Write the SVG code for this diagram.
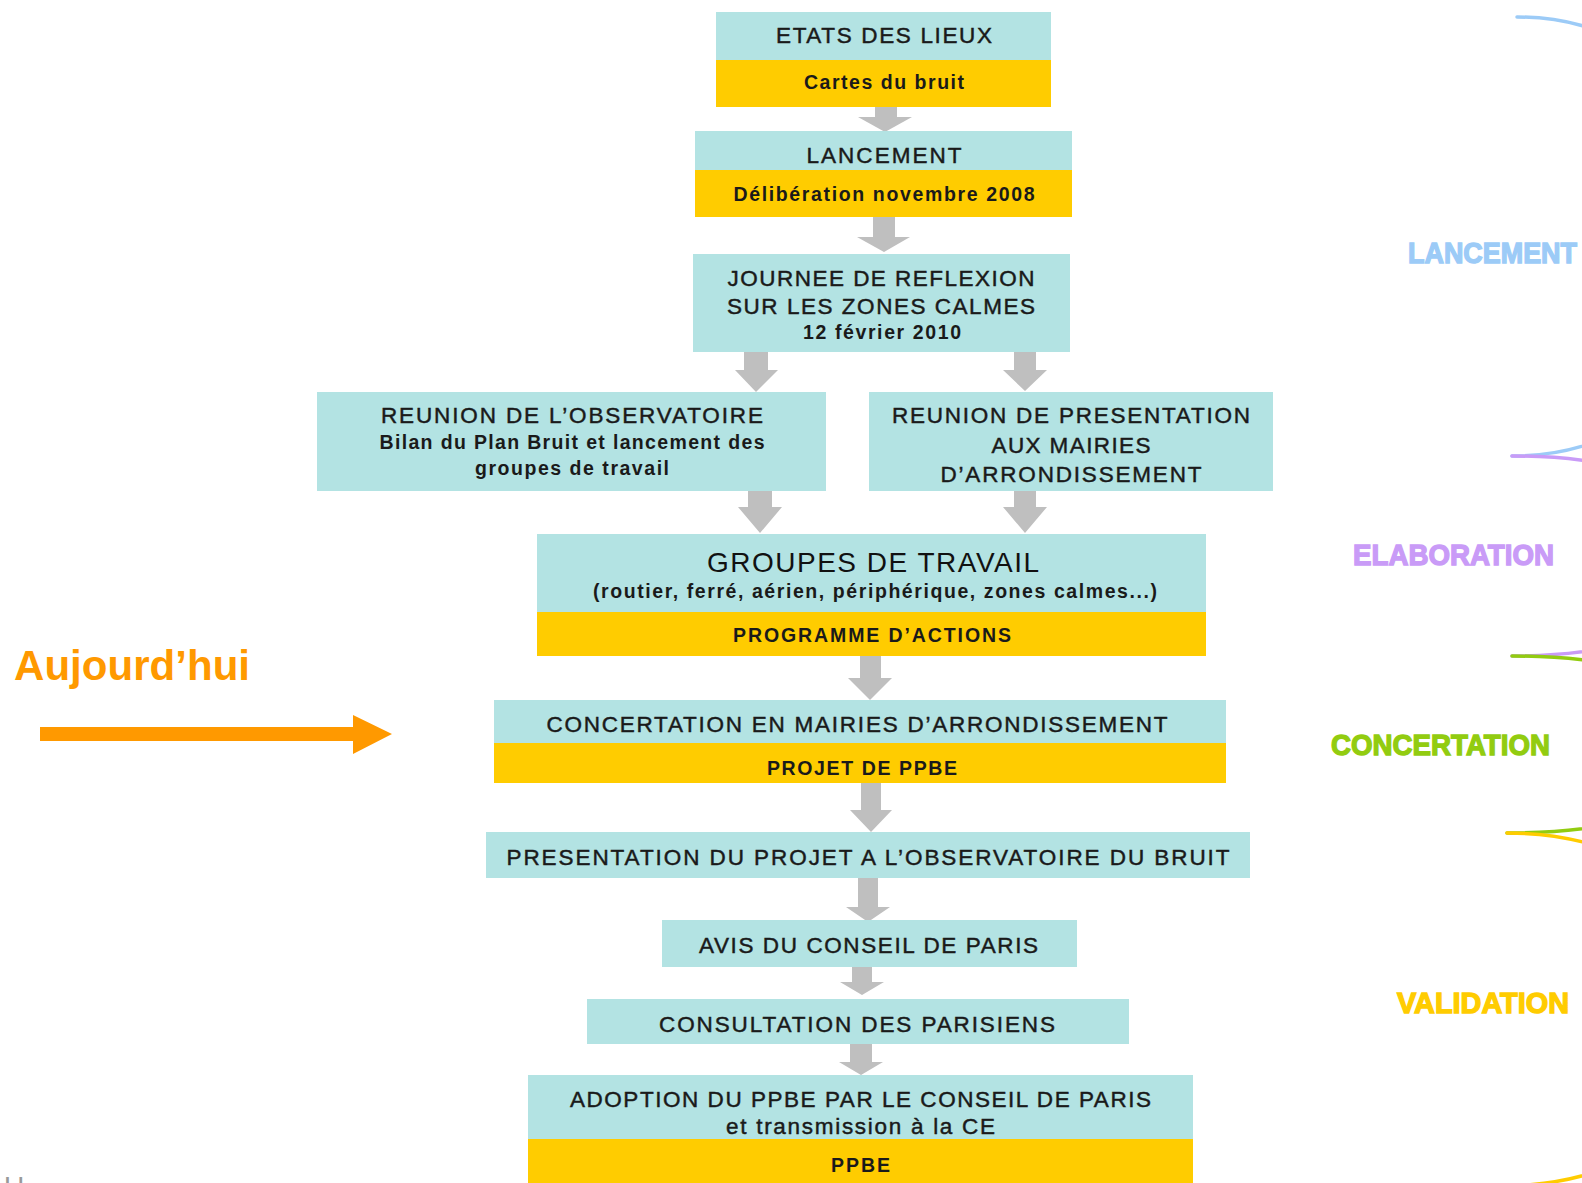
<svg xmlns="http://www.w3.org/2000/svg" width="1582" height="1183" viewBox="0 0 1582 1183">
<style>
.teal{fill:#B3E3E3}
.yel{fill:#FFCC00}
.arr{fill:#BFBFBF}
.t{font-family:"Liberation Sans",Arial,sans-serif;font-size:22.5px;fill:#1a1a1a;stroke:#1a1a1a;stroke-width:0.45px;text-anchor:middle}
.s{font-family:"Liberation Sans",Arial,sans-serif;font-size:19.5px;font-weight:bold;fill:#1a1a1a;text-anchor:middle}
.g{font-family:"Liberation Sans",Arial,sans-serif;font-size:28px;fill:#111;text-anchor:middle}
.ph{font-family:"Liberation Sans",Arial,sans-serif;font-size:30px;font-weight:bold;stroke-width:1.4px}
.arc{fill:none;stroke-width:3.5px;stroke-linecap:round}
</style>
<rect width="1582" height="1183" fill="#ffffff"/>

<g id="connectors">
  <path class="arr" d="M875,107H897V117H912L885,132L858,117H875Z"/>
  <path class="arr" d="M873,217H895V237H910L884,252L857,237H873Z"/>
  <path class="arr" d="M744,352H768V370H778L756,392L735,370H744Z"/>
  <path class="arr" d="M1014,352H1036V370H1047L1025,391L1003,370H1014Z"/>
  <path class="arr" d="M748,491H772V507H782L760,533L738,507H748Z"/>
  <path class="arr" d="M1014,491H1036V507H1047L1025,533L1003,507H1014Z"/>
  <path class="arr" d="M860,656H881V678H892L870,700L848,678H860Z"/>
  <path class="arr" d="M861,783H881V810H892L871,832L850,810H861Z"/>
  <path class="arr" d="M858,878H878V907H890L868,922L846,907H858Z"/>
  <path class="arr" d="M852,967H872V982H884L862,995L840,982H852Z"/>
  <path class="arr" d="M850,1044H872V1062H883L861,1075L839,1062H850Z"/>
  <path d="M40,727H353V715L392,734L353,754V741H40Z" fill="#FF9900"/>
</g>

<g id="n-etats">
  <rect class="teal" x="716" y="12" width="335" height="48"/>
  <rect class="yel" x="716" y="60" width="335" height="47"/>
  <text class="t" x="884" y="43" textLength="216">ETATS DES LIEUX</text>
  <text class="s" x="884" y="89" textLength="160">Cartes du bruit</text>
</g>

<g id="n-lancement">
  <rect class="teal" x="695" y="131" width="377" height="39"/>
  <rect class="yel" x="695" y="170" width="377" height="47"/>
  <text class="t" x="884" y="163" textLength="155">LANCEMENT</text>
  <text class="s" x="884" y="201" textLength="301">Délibération novembre 2008</text>
</g>

<g id="n-journee">
  <rect class="teal" x="693" y="254" width="377" height="98"/>
  <text class="t" x="881" y="286" textLength="307">JOURNEE DE REFLEXION</text>
  <text class="t" x="881" y="314" textLength="308">SUR LES ZONES CALMES</text>
  <text class="s" x="882" y="339" textLength="158">12 février 2010</text>
</g>

<g id="n-observatoire">
  <rect class="teal" x="317" y="392" width="509" height="99"/>
  <text class="t" x="572" y="423" textLength="382">REUNION DE L’OBSERVATOIRE</text>
  <text class="s" x="572" y="449" textLength="385">Bilan du Plan Bruit et lancement des</text>
  <text class="s" x="572" y="475" textLength="194">groupes de travail</text>
</g>

<g id="n-presentation-mairies">
  <rect class="teal" x="869" y="392" width="404" height="99"/>
  <text class="t" x="1071" y="423" textLength="358">REUNION DE PRESENTATION</text>
  <text class="t" x="1071" y="453" textLength="159">AUX MAIRIES</text>
  <text class="t" x="1071" y="482" textLength="261">D’ARRONDISSEMENT</text>
</g>

<g id="n-groupes">
  <rect class="teal" x="537" y="534" width="669" height="78"/>
  <rect class="yel" x="537" y="612" width="669" height="44"/>
  <text class="g" x="873" y="572" textLength="332">GROUPES DE TRAVAIL</text>
  <text class="s" x="875" y="598" textLength="564">(routier, ferré, aérien, périphérique, zones calmes...)</text>
  <text class="s" x="872" y="642" textLength="278">PROGRAMME D’ACTIONS</text>
</g>

<g id="n-concertation">
  <rect class="teal" x="494" y="700" width="732" height="43"/>
  <rect class="yel" x="494" y="743" width="732" height="40"/>
  <text class="t" x="857" y="732" textLength="621">CONCERTATION EN MAIRIES D’ARRONDISSEMENT</text>
  <text class="s" x="862" y="775" textLength="190">PROJET DE PPBE</text>
</g>

<g id="n-presentation-projet">
  <rect class="teal" x="486" y="832" width="764" height="46"/>
  <text class="t" x="868" y="865" textLength="723">PRESENTATION DU PROJET A L’OBSERVATOIRE DU BRUIT</text>
</g>

<g id="n-avis">
  <rect class="teal" x="662" y="920" width="415" height="47"/>
  <text class="t" x="868.5" y="953" textLength="339">AVIS DU CONSEIL DE PARIS</text>
</g>

<g id="n-consultation">
  <rect class="teal" x="587" y="999" width="542" height="45"/>
  <text class="t" x="857" y="1032" textLength="396">CONSULTATION DES PARISIENS</text>
</g>

<g id="n-adoption">
  <rect class="teal" x="528" y="1075" width="665" height="64"/>
  <rect class="yel" x="528" y="1139" width="665" height="44"/>
  <text class="t" x="860.5" y="1107" textLength="581">ADOPTION DU PPBE PAR LE CONSEIL DE PARIS</text>
  <text class="t" x="860.5" y="1134" textLength="269">et transmission à la CE</text>
  <text class="s" x="860.5" y="1172" textLength="59">PPBE</text>
</g>

<g id="n-aujourdhui">
  <text x="14" y="680" font-family="'Liberation Sans',Arial,sans-serif" font-size="42" font-weight="bold" fill="#FF9900" textLength="236">Aujourd’hui</text>
</g>

<g id="phases">
  <path class="arc" stroke="#9CCBF7" d="M1517,17C1800,17 1800,456 1512,456"/>
  <path class="arc" stroke="#C99BF7" d="M1512,456C1800,456 1800,656 1512,656"/>
  <path class="arc" stroke="#92CC10" d="M1512,656C1800,656 1800,833 1507,833"/>
  <path class="arc" stroke="#FFCC00" d="M1507,833C1800,833 1800,1186 1500,1186"/>
  <text class="ph" x="1408" y="263" fill="#9CCBF7" stroke="#9CCBF7" textLength="169" lengthAdjust="spacingAndGlyphs">LANCEMENT</text>
  <text class="ph" x="1353" y="565" fill="#C99BF7" stroke="#C99BF7" textLength="201" lengthAdjust="spacingAndGlyphs">ELABORATION</text>
  <text class="ph" x="1331" y="755" fill="#92CC10" stroke="#92CC10" textLength="219" lengthAdjust="spacingAndGlyphs">CONCERTATION</text>
  <text class="ph" x="1397" y="1013" fill="#FFCC00" stroke="#FFCC00" textLength="172" lengthAdjust="spacingAndGlyphs">VALIDATION</text>
</g>

<text x="4" y="1196" font-family="'Liberation Sans',Arial,sans-serif" font-size="28" fill="#999999">U</text>
</svg>
